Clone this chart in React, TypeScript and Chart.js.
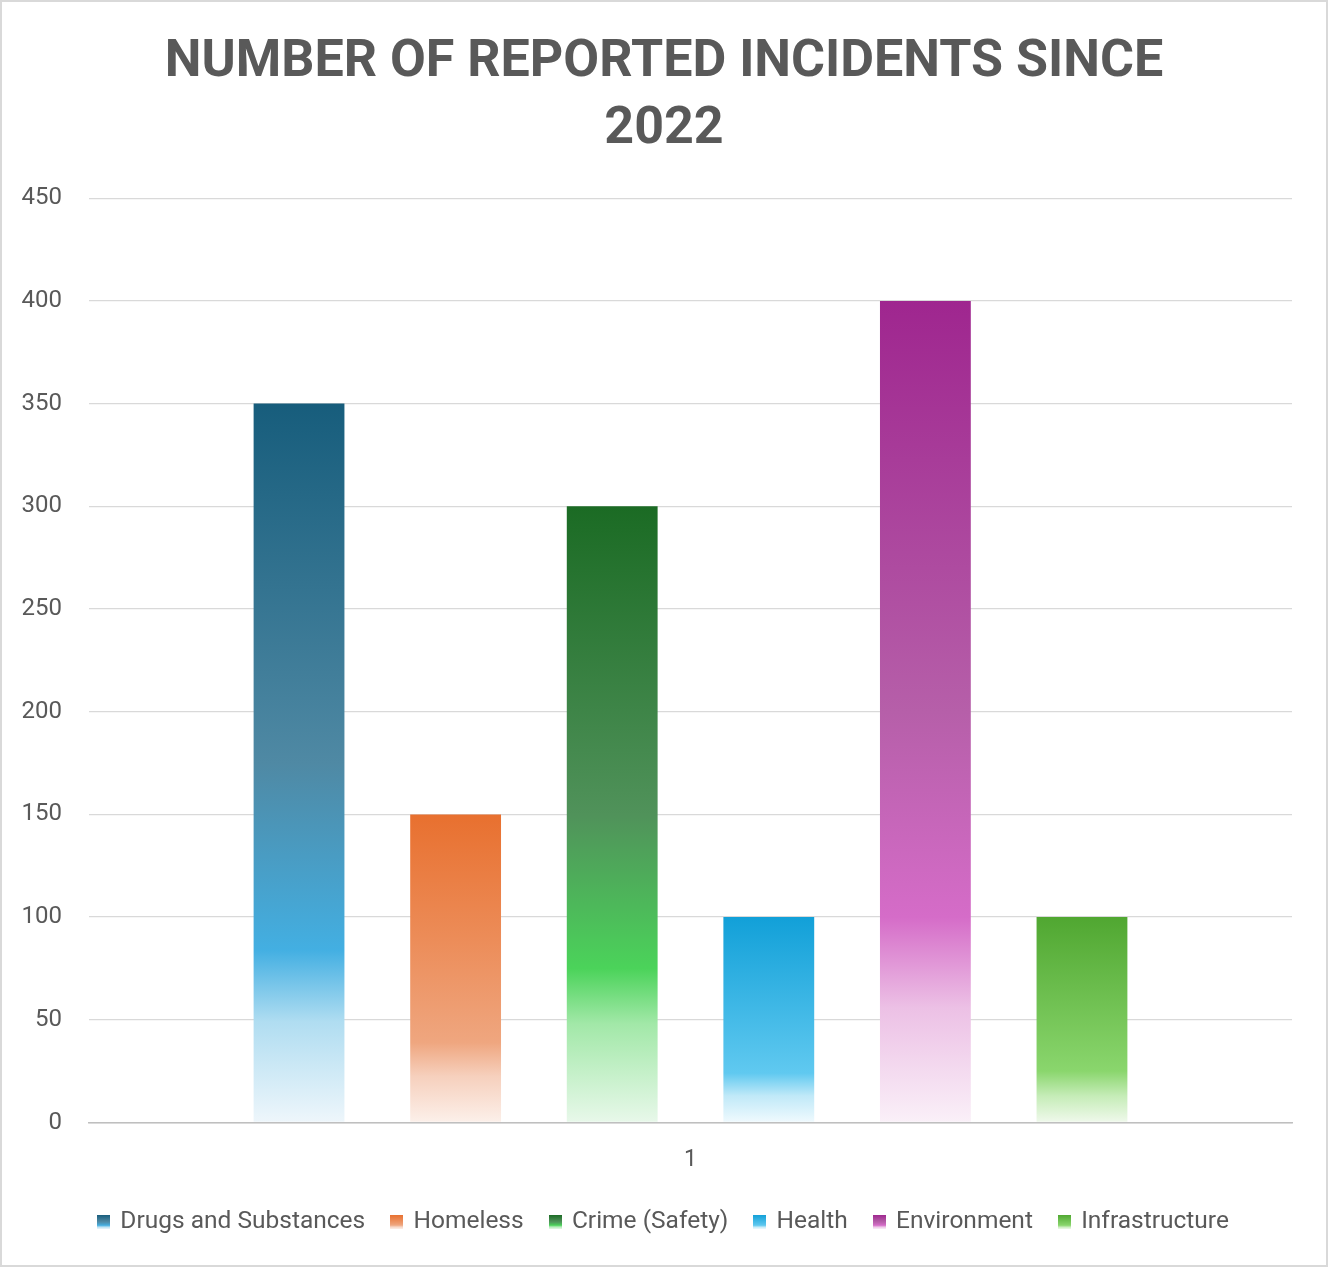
import React, { useEffect, useRef } from 'react';
import Chart from 'chart.js/auto';

// data
const categories = ['1'];
const seriesNames = ['Drugs and Substances', 'Homeless', 'Crime (Safety)', 'Health', 'Environment', 'Infrastructure'];
const seriesValues = [350, 150, 300, 100, 400, 100];
const yTickMin = 0;
const yTickMax = 450;
const yTickStep = 50;
const titleLines = ['NUMBER OF REPORTED INCIDENTS SINCE', '2022'];

// gradient stops per series, top of bar -> base
type Stop = [number, string];
const gradientStops: Stop[][] = [
	[[0, '#175d7c'], [0.5, '#4f89a4'], [0.76, '#43afe2'], [0.86, '#b0ddf1'], [1, '#eef6fb']],
	[[0, '#e8702f'], [0.4, '#ec8c58'], [0.74, '#efa67f'], [0.85, '#f6d0bd'], [1, '#fcf0ea']],
	[[0, '#1b6b24'], [0.5, '#50925a'], [0.75, '#4bd35a'], [0.84, '#a2e8a8'], [1, '#e8f8ea']],
	[[0, '#12a0d8'], [0.76, '#60c9f0'], [0.87, '#c0e9f8'], [1, '#f0fafe']],
	[[0, '#9f268f'], [0.5, '#b65fa9'], [0.75, '#d56cc8'], [0.86, '#ecc0e5'], [1, '#faf0f8']],
	[[0, '#50a731'], [0.75, '#8ad66d'], [0.87, '#c5ecb7'], [1, '#f0f9ec']]
];

const textColor = '#595959';

function applyStops(g: CanvasGradient, stops: Stop[]) {
	stops.forEach(([o, c]) => g.addColorStop(o, c));
	return g;
}

// small gradient squares used as legend markers
function makeSwatch(stops: Stop[]) {
	const c = document.createElement('canvas');
	c.width = 13;
	c.height = 14;
	const cx = c.getContext('2d');
	if (cx) {
		cx.fillStyle = applyStops(cx.createLinearGradient(0, 0, 0, 14), stops);
		cx.fillRect(0, 0, 13, 14);
	}
	return c;
}

export default function App() {
	const chartRef = useRef<HTMLCanvasElement>(null);
	const chartInstance = useRef<Chart | null>(null);

	useEffect(() => {
		if (chartInstance.current) {
			chartInstance.current.destroy();
		}
		if (!chartRef.current) return;
		const ctx = chartRef.current.getContext('2d');
		if (!ctx) return;

		const swatches = gradientStops.map(makeSwatch);

		chartInstance.current = new Chart(ctx, {
			type: 'bar',
			data: {
				labels: categories,
				datasets: seriesNames.map((name, i) => ({
					label: name,
					data: [seriesValues[i]],
					backgroundColor: (c: any) => {
						const chart = c.chart;
						const y = chart.scales && chart.scales.y;
						if (!chart.chartArea || !y || typeof c.raw !== 'number') return gradientStops[i][0][1];
						const top = y.getPixelForValue(c.raw);
						const base = y.getPixelForValue(0);
						return applyStops(chart.ctx.createLinearGradient(0, top, 0, base), gradientStops[i]);
					},
					borderWidth: 0,
					categoryPercentage: 0.781,
					barPercentage: 0.58
				}))
			},
			options: {
				responsive: true,
				maintainAspectRatio: false,
				animation: false,
				layout: { padding: { top: 0, right: 0, bottom: 21, left: 0 } },
				plugins: {
					title: {
						display: true,
						text: titleLines,
						color: textColor,
						font: { family: 'Roboto', size: 52, weight: 'bold', lineHeight: 1.3 },
						padding: { top: 27, bottom: 34 }
					},
					legend: {
						position: 'bottom',
						labels: {
							usePointStyle: true,
							pointStyleWidth: 9,
							boxHeight: 14,
							padding: 27,
							color: textColor,
							font: { family: 'Roboto', size: 24.5 },
							generateLabels: (chart: Chart) =>
								Chart.defaults.plugins.legend.labels
									.generateLabels(chart)
									.map((l: any, i: number) => ({ ...l, pointStyle: swatches[i] }))
						}
					},
					tooltip: { enabled: false }
				},
				scales: {
					x: {
						grid: { display: false, drawTicks: false },
						border: { display: true, color: '#bfbfbf', width: 1.5 },
						ticks: { color: textColor, font: { family: 'Roboto', size: 23 }, padding: 24 },
						afterFit: (scale: any) => {
							scale.height = 60;
						}
					},
					y: {
						min: yTickMin,
						max: yTickMax,
						grid: { color: '#d9d9d9', lineWidth: 1.3, drawTicks: false },
						border: { display: false },
						ticks: {
							stepSize: yTickStep,
							color: textColor,
							font: { family: 'Roboto', size: 24 },
							padding: 27
						},
						afterFit: (scale: any) => {
							scale.width = 87;
						}
					},
					// empty right-hand spacer so the title and legend stay centred on the canvas
					yRight: {
						type: 'linear',
						position: 'right',
						grid: { display: false, drawTicks: false },
						border: { display: false },
						ticks: { display: false },
						afterFit: (scale: any) => {
							scale.width = 34;
						}
					}
				}
			}
		});

		return () => {
			if (chartInstance.current) {
				chartInstance.current.destroy();
				chartInstance.current = null;
			}
		};
	}, []);

	return (
		<div
			style={{
				position: 'absolute',
				top: 0,
				left: 0,
				width: '1328px',
				height: '1267px',
				boxSizing: 'border-box',
				border: '2px solid #d9d9d9',
				background: '#fff'
			}}
		>
			<canvas ref={chartRef}></canvas>
		</div>
	);
}
